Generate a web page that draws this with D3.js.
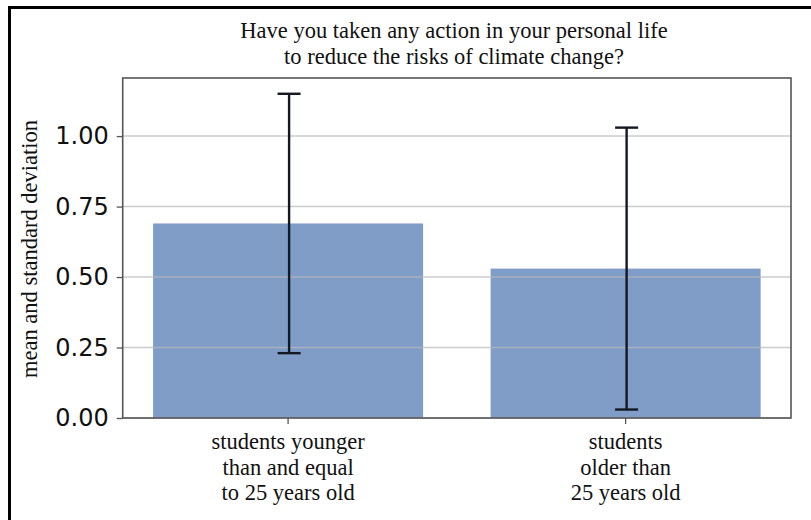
<!DOCTYPE html>
<html>
<head>
<meta charset="utf-8">
<script src="https://cdn.jsdelivr.net/npm/d3@7/dist/d3.min.js"></script>
<style>
  html, body { margin: 0; padding: 0; background: #fff; }
  svg { display: block; }
</style>
</head>
<body>
<svg id="chart" width="811" height="520"></svg>
<script>
const titleLines = ["Have you taken any action in your personal life", "to reduce the risks of climate change?"];
const categories = ["young", "old"];
const categoryLabels = [
  ["students younger", "than and equal", "to 25 years old"],
  ["students", "older than", "25 years old"]
];
const means = [0.69, 0.53];
const stds = [0.46, 0.50];
const yTicks = [0, 0.25, 0.5, 0.75, 1.0];
const yLabel = "mean and standard deviation";

const svg = d3.select("#chart");
const W = 811, H = 520;
const plot = { left: 122.7, right: 791, top: 78, bottom: 418 };

// outer frame (top and left edges visible)
svg.append("line").attr("x1", 9.5).attr("x2", W).attr("y1", 7.5).attr("y2", 7.5)
  .attr("stroke", "#000").attr("stroke-width", 3);
svg.append("line").attr("x1", 9.5).attr("x2", 9.5).attr("y1", 6).attr("y2", H)
  .attr("stroke", "#000").attr("stroke-width", 3);

const x = d3.scaleBand().domain(categories).range([plot.left, plot.right])
  .paddingInner(0.2).paddingOuter(0.09);
const y = d3.scaleLinear().domain([0, 1.206]).range([plot.bottom, plot.top]);

// bars
svg.append("g").selectAll("rect").data(categories).join("rect")
  .attr("x", d => x(d))
  .attr("width", x.bandwidth())
  .attr("y", (d, i) => y(means[i]))
  .attr("height", (d, i) => y(0) - y(means[i]))
  .attr("fill", "#809dc8");

// grid lines on top
svg.append("g").selectAll("line").data(yTicks).join("line")
  .attr("x1", plot.left).attr("x2", plot.right)
  .attr("y1", d => y(d)).attr("y2", d => y(d))
  .attr("stroke", "#b8b8b8").attr("stroke-opacity", 0.7).attr("stroke-width", 1.5);

// error bars
const eb = svg.append("g").attr("stroke", "#141823").attr("stroke-width", 2.4);
categories.forEach((c, i) => {
  const cx = x(c) + x.bandwidth() / 2 + 1;
  const y0 = y(means[i] - stds[i]), y1 = y(means[i] + stds[i]);
  eb.append("line").attr("x1", cx).attr("x2", cx).attr("y1", y0).attr("y2", y1);
  eb.append("line").attr("x1", cx - 11.5).attr("x2", cx + 11.5).attr("y1", y0).attr("y2", y0);
  eb.append("line").attr("x1", cx - 11.5).attr("x2", cx + 11.5).attr("y1", y1).attr("y2", y1);
});

// axes
const yAxis = svg.append("g").attr("transform", `translate(${plot.left},0)`)
  .call(d3.axisLeft(y).tickValues(yTicks).tickFormat(d3.format(".2f")).tickSize(6).tickPadding(8));
yAxis.select(".domain").remove();
yAxis.selectAll(".tick line").attr("stroke", "#555").attr("stroke-width", 1.3);
yAxis.selectAll(".tick text").attr("font-family", "DejaVu Sans").attr("font-size", 24).attr("fill", "#111");

const xAxis = svg.append("g").attr("transform", `translate(0,${plot.bottom})`)
  .call(d3.axisBottom(x).tickSize(6).tickFormat(""));
xAxis.select(".domain").remove();
xAxis.selectAll(".tick line").attr("stroke", "#555").attr("stroke-width", 1.3);
xAxis.selectAll(".tick").each(function(d, i) {
  const t = d3.select(this).append("text")
    .attr("font-family", "Liberation Serif").attr("font-size", 22.5).attr("fill", "#111")
    .attr("text-anchor", "middle");
  categoryLabels[i].forEach((s, k) => {
    t.append("tspan").attr("x", 0).attr("y", 31 + k * 25.5).text(s);
  });
});

// spines
svg.append("rect").attr("x", plot.left).attr("y", plot.top)
  .attr("width", plot.right - plot.left).attr("height", plot.bottom - plot.top)
  .attr("fill", "none").attr("stroke", "#555").attr("stroke-width", 1.6);

// title
const title = svg.append("text").attr("font-family", "Liberation Serif").attr("font-size", 22.5)
  .attr("fill", "#111").attr("text-anchor", "middle");
titleLines.forEach((s, k) => {
  title.append("tspan").attr("x", 454).attr("y", 38 + k * 26).text(s);
});

// y label
svg.append("text").attr("font-family", "Liberation Serif").attr("font-size", 22.5).attr("fill", "#111")
  .attr("text-anchor", "middle")
  .attr("transform", `translate(37,${(120 + 378) / 2}) rotate(-90)`)
  .text(yLabel);
</script>
</body>
</html>
